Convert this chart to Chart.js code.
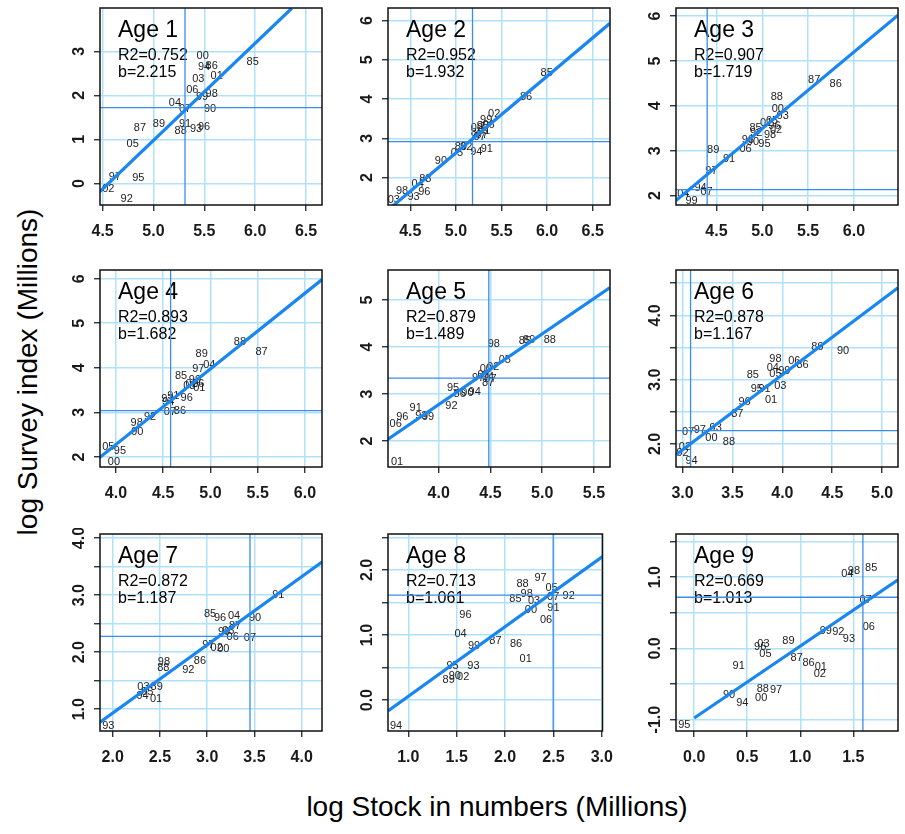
<!DOCTYPE html>
<html>
<head>
<meta charset="utf-8">
<script src="https://cdn.jsdelivr.net/npm/chart.js@4.4.0/dist/chart.umd.min.js"></script>
<style>
  body { margin: 0; background: #fff; width: 905px; height: 834px; overflow: hidden; position: relative;
         font-family: "Liberation Sans", Arial, sans-serif; }
  canvas.panel { position: absolute; }
  .ytitle { position: absolute; left: 28px; top: 372px; transform: translate(-50%, -50%) rotate(-90deg);
            font-size: 28px; white-space: nowrap; color: #000; }
  .xtitle { position: absolute; left: 497px; top: 807px; transform: translate(-50%, -50%);
            font-size: 28px; white-space: nowrap; color: #000; }
</style>
</head>
<body>
<div class="ytitle">log Survey index (Millions)</div>
<div class="xtitle">log Stock in numbers (Millions)</div>
<script>
'use strict'

// ------------------------- Data -------------------------------------- //
const years = ['85','86','87','88','89','90','91','92','93','94','95','96',
               '97','98','99','00','01','02','03','04','05','06','07'];

const ages = ['Age 1','Age 2','Age 3','Age 4','Age 5','Age 6','Age 7','Age 8','Age 9'];
const r2Labels = ['0.752','0.952','0.907','0.893','0.879','0.878','0.872','0.713','0.669'];
const bLabels  = ['2.215','1.932','1.719','1.682','1.489','1.167','1.187','1.061','1.013'];

// log stock (x) and log survey index (y), in year order 85..07
const stock1  = [5.975,5.572,4.867,5.267,5.054,5.556,5.310,4.736,5.418,5.497,4.851,5.497,4.621,5.572,5.477,5.484,5.621,4.556,5.441,5.211,4.795,5.382,5.310];
const survey1 = [2.758,2.667,1.250,1.189,1.348,1.682,1.348,-0.364,1.227,2.636,0.129,1.273,0.152,2.030,1.970,2.894,2.439,-0.129,2.371,1.833,0.894,2.121,1.682];

const stock2  = [5.996,5.770,5.230,4.664,5.055,4.836,5.339,5.113,4.536,5.223,5.296,4.653,5.285,4.409,5.332,5.230,5.310,5.420,4.318,4.580,5.011,5.358,5.259];
const survey2 = [4.658,4.047,3.130,1.966,2.790,2.425,2.730,2.790,1.499,2.645,3.325,1.643,3.087,1.669,3.469,3.257,3.197,3.622,1.431,1.830,2.620,3.342,3.028];

const stock3  = [4.926,5.801,5.566,5.158,4.464,4.898,4.637,4.934,4.843,4.327,5.024,5.132,4.446,5.085,4.229,5.169,5.042,5.150,5.223,4.139,5.107,4.818,4.392];
const survey3 = [3.512,4.495,4.570,4.197,3.020,3.192,2.819,3.393,3.229,2.164,3.140,3.542,2.559,3.341,1.888,3.937,3.616,3.467,3.773,2.037,3.661,3.043,2.089];

const stock4  = [4.688,4.677,5.541,5.312,4.907,4.226,4.607,4.360,4.543,4.554,4.042,4.748,4.871,4.219,4.836,3.979,4.882,4.801,4.776,4.988,3.919,4.871,4.571];
const survey4 = [3.820,3.038,4.353,4.579,4.308,2.564,3.376,2.902,3.293,3.241,2.128,3.331,3.977,2.752,3.729,1.887,3.556,3.639,3.594,4.068,2.226,3.639,3.000];

const stock5  = [4.832,4.203,4.477,5.074,4.874,4.277,3.777,4.123,3.832,4.348,4.139,3.648,4.381,4.532,3.897,4.455,3.597,4.526,4.435,4.477,4.639,3.584,4.500];
const survey5 = [4.138,2.997,3.247,4.159,4.159,3.018,2.698,2.755,2.541,3.040,3.140,2.520,3.339,4.066,2.520,3.532,1.557,3.567,3.411,3.361,3.731,2.356,3.318];

const stock6  = [3.704,4.203,3.548,3.465,4.352,4.608,3.821,3.000,3.332,3.090,3.744,3.621,3.173,3.930,4.020,3.289,3.887,3.023,3.980,3.904,3.930,4.120,3.056];
const survey6 = [3.081,3.236,2.473,2.026,3.506,3.444,2.857,1.860,2.249,1.730,2.857,2.649,2.213,3.325,3.132,2.094,2.691,1.948,2.909,3.184,3.096,3.288,2.182];

const stock7  = [3.030,2.924,3.295,2.536,2.466,3.506,3.753,2.801,1.954,2.317,2.367,3.136,3.012,2.543,3.178,3.171,2.459,3.101,2.325,3.284,3.224,3.270,3.453];
const survey7 = [2.665,1.853,2.459,1.718,1.394,2.606,3.000,1.694,0.706,1.224,1.294,2.600,2.129,1.835,2.353,2.059,1.176,2.071,1.394,2.635,2.365,2.265,2.247];

const stock8  = [2.107,2.113,1.900,2.180,1.417,1.480,2.500,2.657,1.673,0.873,1.457,1.590,2.367,2.223,1.680,2.267,2.213,1.567,2.300,1.540,2.480,2.423,2.497];
const survey8 = [1.552,0.866,0.902,1.784,0.314,0.376,1.418,1.603,0.531,-0.397,0.531,1.304,1.871,1.624,0.830,1.381,0.634,0.361,1.521,1.010,1.716,1.227,1.588];

const stock9  = [1.669,1.078,0.966,0.647,0.888,0.328,0.419,1.359,1.459,0.453,-0.094,0.622,0.772,1.506,1.241,0.631,1.194,1.184,0.653,1.444,0.672,1.647,1.616];
const survey9 = [1.136,-0.211,-0.131,-0.563,0.103,-0.657,-0.244,0.235,0.131,-0.761,-1.080,0.023,-0.587,1.089,0.244,-0.695,-0.258,-0.362,0.061,1.042,-0.085,0.305,0.681];

// fitted line end points (x and y)
const fitX = [[4.47,6.36],[4.30,6.69],[4.059,6.48],[3.813,6.18],[3.51,5.655],[2.934,5.159],[1.859,4.215],[0.79,3.007],[0.0,1.922]];
const fitY = [[-0.19,3.98],[1.26,5.93],[1.888,6.02],[1.962,5.98],[2.042,5.264],[1.834,4.431],[0.765,3.58],[-0.165,2.206],[-0.977,0.962]];

// reference lines
const refY = [1.72, 2.917, 2.134, 3.038, 3.339, 2.208, 2.276, 1.613, 0.718];
const refX = [5.31, 5.182, 4.399, 4.578, 4.484, 3.080, 3.453, 2.497, 1.591];

// axis ranges
const xMin = [4.474, 4.255, 4.059, 3.831, 3.510, 2.934, 1.866, 0.790, -0.172];
const xMax = [6.657, 6.690, 6.480, 6.180, 5.655, 5.159, 4.215, 3.007, 1.922];
const yMin = [-0.49, 1.30, 1.79, 1.774, 1.45, 1.642, 0.618, -0.474, -1.16];
const yMax = [3.985, 6.32, 6.18, 6.195, 5.64, 4.706, 4.071, 2.552, 1.606];

// ticks
const xTicks = [[4.5,5,5.5,6,6.5],[4.5,5,5.5,6,6.5],[4.5,5,5.5,6],[4,4.5,5,5.5,6],[4,4.5,5,5.5],
                [3,3.5,4,4.5,5],[2,2.5,3,3.5,4],[1,1.5,2,2.5,3],[0,0.5,1,1.5]];
const yTicks = [[0,1,2,3],[2,3,4,5,6],[2,3,4,5,6],[2,3,4,5,6],[2,3,4,5],
                [2,2.5,3,3.5,4,4.5],[1,1.5,2,2.5,3,3.5,4],[0,0.5,1,1.5,2,2.5],[-1,-0.5,0,0.5,1,1.5]];
const yLabelValues = [[0,1,2,3],[2,3,4,5,6],[2,3,4,5,6],[2,3,4,5,6],[2,3,4,5],
                      [2,3,4],[1,2,3,4],[0,1,2],[-1,0,1]];
const yLabelText = [['0','1','2','3'],['2','3','4','5','6'],['2','3','4','5','6'],['2','3','4','5','6'],['2','3','4','5'],
                    ['2.0','3.0','4.0'],['1.0','2.0','3.0','4.0'],['0.0','1.0','2.0'],['-1.0','0.0','1.0']];

const allStock  = [stock1, stock2, stock3, stock4, stock5, stock6, stock7, stock8, stock9];
const allSurvey = [survey1, survey2, survey3, survey4, survey5, survey6, survey7, survey8, survey9];

// ------------------------- Layout -------------------------------------- //
const FONT = '"Liberation Sans", Arial, sans-serif';
const colLeft = [100, 388, 676];
const rowTop = [8, 270, 534];
const BOX_W = 222, BOX_H = 197;
const ML = 50, MT = 6, MR = 14, MB = 50;
const gridColor = '#b0e1fb';
const fitColor = '#1a86f2';
const refColor = '#3a8de8';

// ------------------------- Plugins -------------------------------------- //
const panelText = {
    id: 'panelText',
    beforeDatasetsDraw(chart, args, opts) {
        const ctx = chart.ctx, a = chart.chartArea;
        const meta = chart.getDatasetMeta(0);
        ctx.save();
        ctx.beginPath();
        ctx.rect(a.left, a.top, a.right - a.left, a.bottom - a.top);
        ctx.clip();
        ctx.fillStyle = '#222';
        ctx.font = '11px ' + FONT;
        ctx.textAlign = 'center';
        ctx.textBaseline = 'middle';
        meta.data.forEach(function(pt, j) {
            ctx.fillText(years[j], pt.x, pt.y);
        });
        ctx.textAlign = 'left';
        ctx.textBaseline = 'alphabetic';
        ctx.fillStyle = '#000';
        ctx.font = '23px ' + FONT;
        ctx.fillText(ages[opts.idx], a.left + 18, a.top + 29);
        ctx.font = '16px ' + FONT;
        ctx.fillText('R2=' + r2Labels[opts.idx], a.left + 18, a.top + 52);
        ctx.fillText('b=' + bLabels[opts.idx], a.left + 18, a.top + 69);
        ctx.restore();
    },
    afterDraw(chart, args, opts) {
        const ctx = chart.ctx, a = chart.chartArea;
        const sy = chart.scales.y;
        ctx.save();
        ctx.strokeStyle = '#111';
        ctx.lineWidth = 1.5;
        ctx.strokeRect(a.left, a.top, a.right - a.left, a.bottom - a.top);
        ctx.fillStyle = '#1a1a1a';
        ctx.font = 'bold 16px ' + FONT;
        ctx.textAlign = 'center';
        ctx.textBaseline = 'middle';
        yLabelValues[opts.idx].forEach(function(v, k) {
            ctx.save();
            ctx.translate(a.left - 20, sy.getPixelForValue(v));
            ctx.rotate(-Math.PI / 2);
            ctx.fillText(yLabelText[opts.idx][k], 0, 0);
            ctx.restore();
        });
        ctx.restore();
    }
};

// ------------------------- Main -------------------------------------- //
for (let i = 0; i < 9; i++) {
    const canvas = document.createElement('canvas');
    canvas.className = 'panel';
    canvas.width = BOX_W + ML + MR;
    canvas.height = BOX_H + MT + MB;
    canvas.style.width = canvas.width + 'px';
    canvas.style.height = canvas.height + 'px';
    canvas.style.left = (colLeft[i % 3] - ML) + 'px';
    canvas.style.top = (rowTop[Math.floor(i / 3)] - MT) + 'px';
    document.body.appendChild(canvas);

    const points = allStock[i].map(function(x, k) { return {x: x, y: allSurvey[i][k]}; });
    const fit = fitX[i].map(function(x, k) { return {x: x, y: fitY[i][k]}; });
    const hLine = [{x: xMin[i], y: refY[i]}, {x: xMax[i], y: refY[i]}];
    const vLine = [{x: refX[i], y: yMin[i]}, {x: refX[i], y: yMax[i]}];

    new Chart(canvas, {
        type: 'scatter',
        data: {
            datasets: [
                {data: points, pointRadius: 0, showLine: false},
                {data: fit, showLine: true, pointRadius: 0, borderColor: fitColor, borderWidth: 3.2, fill: false, clip: 0},
                {data: hLine, showLine: true, pointRadius: 0, borderColor: refColor, borderWidth: 1.3, fill: false, clip: 0},
                {data: vLine, showLine: true, pointRadius: 0, borderColor: refColor, borderWidth: 1.3, fill: false, clip: 0}
            ]
        },
        options: {
            responsive: false,
            animation: false,
            devicePixelRatio: 1,
            layout: {padding: {left: 0, top: MT, right: MR, bottom: 0}},
            plugins: {
                legend: {display: false},
                tooltip: {enabled: false},
                panelText: {idx: i}
            },
            scales: {
                x: {
                    type: 'linear',
                    min: xMin[i],
                    max: xMax[i],
                    afterBuildTicks: function(scale) { scale.ticks = xTicks[i].map(function(v) { return {value: v}; }); },
                    afterFit: function(scale) { scale.height = MB; },
                    border: {display: false},
                    grid: {color: gridColor, lineWidth: 1.5, drawTicks: true, tickLength: 6, tickColor: '#111', tickWidth: 1.2},
                    ticks: {
                        autoSkip: false, maxRotation: 0, minRotation: 0, padding: 11, color: '#1a1a1a',
                        font: {size: 16, weight: 'bold', family: FONT},
                        callback: function(v) { return Number(v).toFixed(1); }
                    }
                },
                y: {
                    type: 'linear',
                    min: yMin[i],
                    max: yMax[i],
                    afterBuildTicks: function(scale) { scale.ticks = yTicks[i].map(function(v) { return {value: v}; }); },
                    afterFit: function(scale) { scale.width = ML; },
                    border: {display: false},
                    grid: {color: gridColor, lineWidth: 1.5, drawTicks: true, tickLength: 6, tickColor: '#111', tickWidth: 1.2},
                    ticks: {display: false}
                }
            }
        },
        plugins: [panelText]
    });
}
</script>
</body>
</html>
